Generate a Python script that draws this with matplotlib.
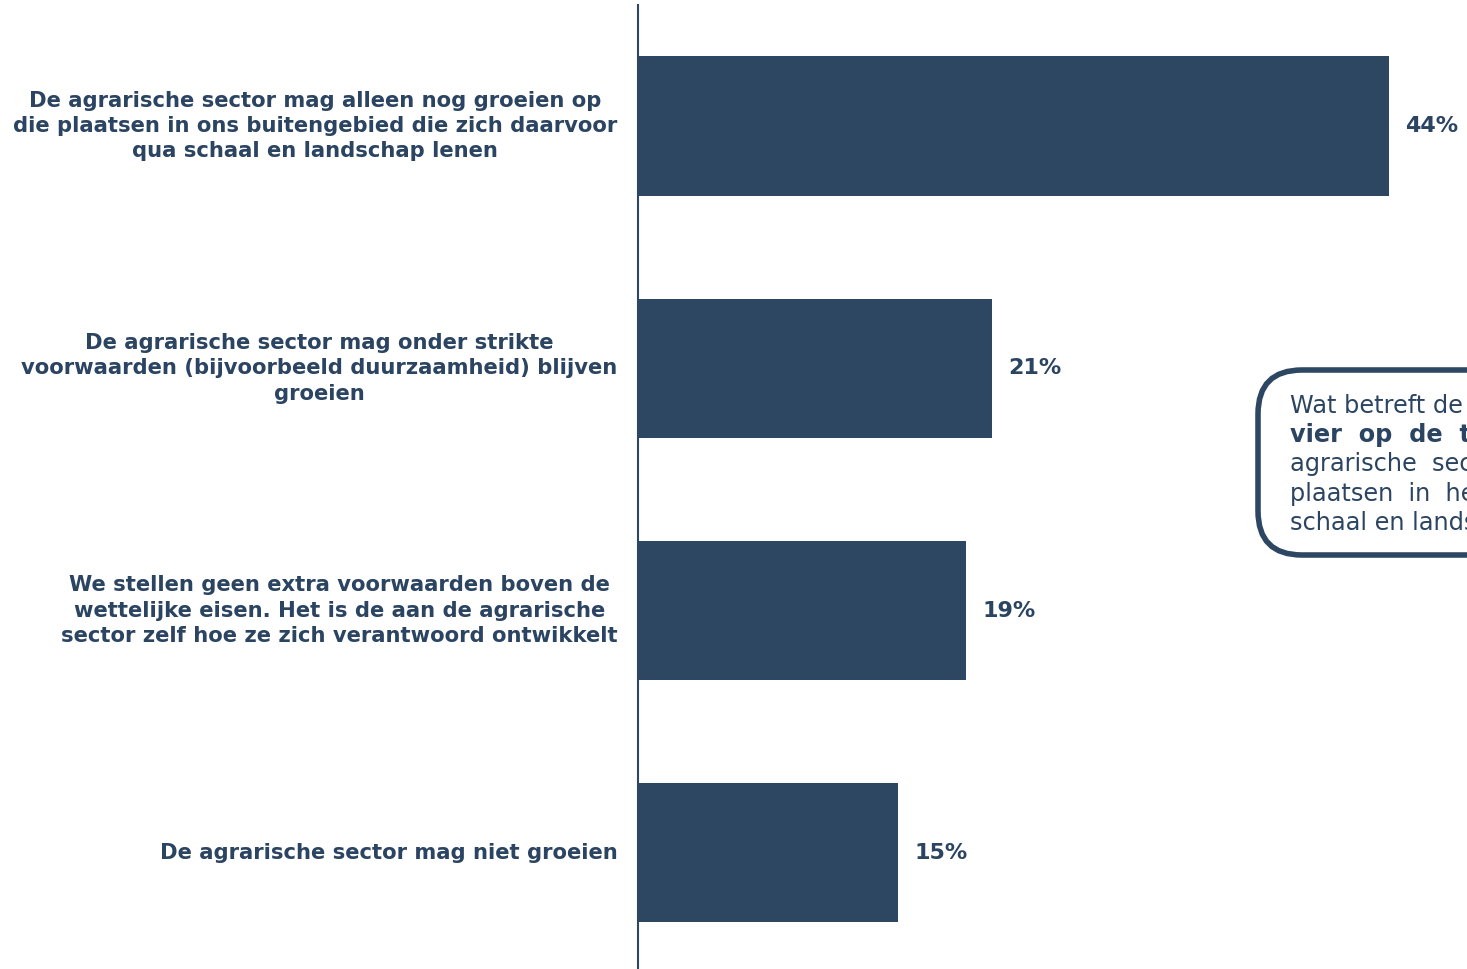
import matplotlib.pyplot as plt
from matplotlib.patches import FancyBboxPatch

# data
categories = [
    'De agrarische sector mag alleen nog groeien op\ndie plaatsen in ons buitengebied die zich daarvoor\nqua schaal en landschap lenen',
    'De agrarische sector mag onder strikte\nvoorwaarden (bijvoorbeeld duurzaamheid) blijven\ngroeien',
    'We stellen geen extra voorwaarden boven de\nwettelijke eisen. Het is de aan de agrarische\nsector zelf hoe ze zich verantwoord ontwikkelt',
    'De agrarische sector mag niet groeien',
]
values = [43.9, 20.7, 19.2, 15.2]
labels = ['44%', '21%', '19%', '15%']

box_lines = [
    ('Wat betreft de toekomst van de', 'normal'),
    ('vier  op  de  tien', 'bold'),
    ('agrarische  sector  alleen', 'normal'),
    ('plaatsen  in  het  buitengebied', 'normal'),
    ('schaal en landschap lenen.', 'normal'),
]

dark = '#2D4763'
txt = '#2B4462'

fig = plt.figure(figsize=(14.67, 9.69), dpi=100)
ax = fig.add_axes([638 / 1467, 0.0, 1 - 638 / 1467, 1 - 5 / 969])

ypos = list(range(len(values)))
ax.barh(ypos, values, height=0.575, color=dark)
ax.set_ylim(3.48, -0.5)
ax.set_xlim(0, (1467 - 638) / 17.1)

for y, v, lab in zip(ypos, values, labels):
    ax.text(v + 0.95, y, lab, va='center', ha='left', fontsize=16,
            fontweight='bold', color=txt)

for y, cat in zip(ypos, categories):
    ax.text(-1.2, y, cat, va='center', ha='right', multialignment='center',
            fontsize=15.2, fontweight='bold', color=txt, linespacing=1.33)

for s in ['top', 'right', 'bottom']:
    ax.spines[s].set_visible(False)
ax.spines['left'].set_color(dark)
ax.spines['left'].set_linewidth(1.5)
ax.set_xticks([])
ax.set_yticks([])

# callout box, cut off by the right edge as in the original
W, H = 1467, 969
box = FancyBboxPatch((1258 / W, 1 - 555 / H), 300 / W, 185 / H,
                     boxstyle='round,pad=0,rounding_size=0.03',
                     transform=fig.transFigure, facecolor='white',
                     edgecolor=dark, linewidth=4, mutation_aspect=W / H)
fig.patches.append(box)

for i, (line, w) in enumerate(box_lines):
    fig.text(1290 / W, 1 - (406 + i * 29.2) / H, line, fontsize=17.3,
             fontweight=w, color=txt, va='center', ha='left')

fig.savefig('out.png', dpi=100)
